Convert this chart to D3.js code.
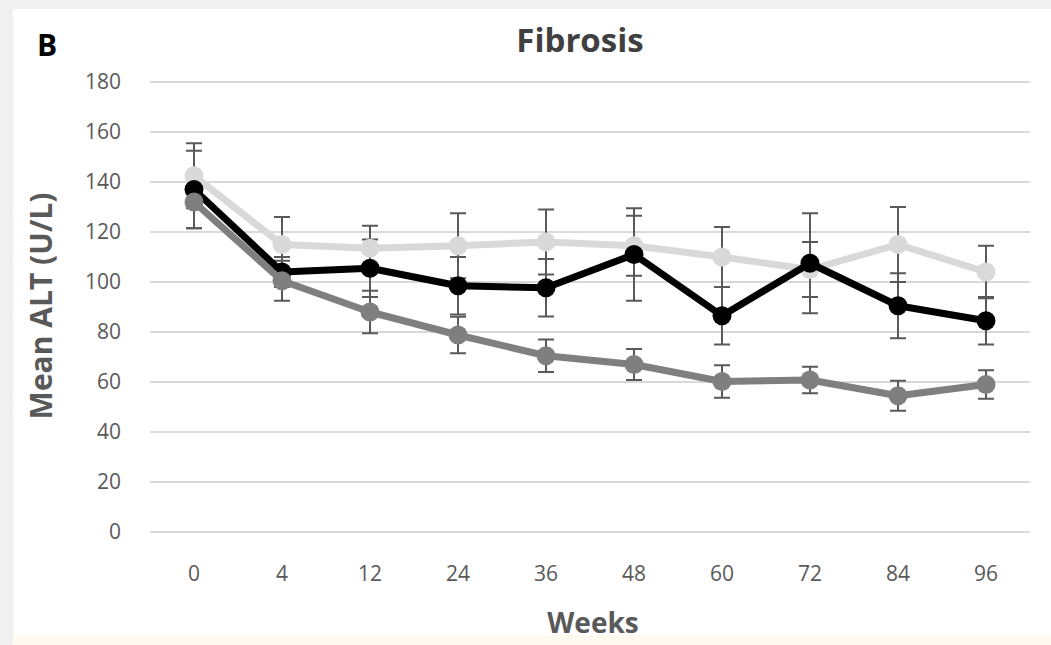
<!DOCTYPE html>
<html>
<head>
<meta charset="utf-8">
<script src="https://cdn.jsdelivr.net/npm/d3@7"></script>
<style>
  html, body { margin: 0; padding: 0; background: #f0f0f0; }
</style>
</head>
<body>
<div id="chart"></div>
<script>
// data
const weeks = ['0', '4', '12', '24', '36', '48', '60', '72', '84', '96'];
const yTicks = [0, 20, 40, 60, 80, 100, 120, 140, 160, 180];

const lightMean = [142.5, 115, 113.5, 114.5, 116, 114.5, 110, 105, 115, 104];
const lightErr  = [13, 11, 9, 13, 13, 12, 12, 11, 15, 10.5];

const blackMean = [137, 104, 105.5, 98.5, 97.7, 111, 86.5, 107.5, 90.5, 84.5];
const blackErr  = [15.5, 6, 11.5, 11.5, 11.5, 18.5, 11.5, 20, 13, 9.5];

const darkMean = [132, 100.5, 88, 78.8, 70.5, 67, 60.2, 60.8, 54.5, 59];
const darkErr  = [10.5, 8, 8.5, 7.3, 6.5, 6.2, 6.5, 5.3, 6, 5.7];

const series = [
  {name: 'light', mean: lightMean, err: lightErr, color: '#d9d9d9'},
  {name: 'black', mean: blackMean, err: blackErr, color: '#000000'},
  {name: 'dark',  mean: darkMean,  err: darkErr,  color: '#7f7f7f'}
];

const width = 1051, height = 645;
const plot = {left: 150, right: 1030, top: 82, bottom: 532};

const svg = d3.select('#chart')
  .append('svg')
    .attr('width', width)
    .attr('height', height)
    .style('display', 'block');

// backgrounds
svg.append('rect').attr('x', 0).attr('y', 0).attr('width', width).attr('height', height).attr('fill', '#f0f0f0');
svg.append('rect').attr('x', 13).attr('y', 9).attr('width', width - 13).attr('height', height - 9).attr('fill', '#ffffff');
svg.append('rect').attr('x', 13).attr('y', 635).attr('width', width - 13).attr('height', 10).attr('fill', '#fffaf0');

const xScale = d3.scalePoint()
  .domain(weeks)
  .range([plot.left, plot.right])
  .padding(0.5);

const yScale = d3.scaleLinear()
  .domain([0, 180])
  .range([plot.bottom, plot.top]);

// gridlines
svg.append('g')
  .selectAll('line')
  .data(yTicks)
  .join('line')
    .attr('x1', plot.left)
    .attr('x2', plot.right)
    .attr('y1', d => yScale(d))
    .attr('y2', d => yScale(d))
    .attr('stroke', '#d9d9d9')
    .attr('stroke-width', 2);

// y tick labels
svg.append('g')
  .selectAll('text')
  .data(yTicks)
  .join('text')
    .text(d => d)
    .attr('x', 121)
    .attr('y', d => yScale(d))
    .attr('dy', '0.35em')
    .attr('text-anchor', 'end')
    .attr('fill', '#595959')
    .attr('font-family', 'Open Sans, sans-serif')
    .attr('font-size', '21px');

// x tick labels
svg.append('g')
  .selectAll('text')
  .data(weeks)
  .join('text')
    .text(d => d)
    .attr('x', d => xScale(d))
    .attr('y', 574)
    .attr('dy', '0.35em')
    .attr('text-anchor', 'middle')
    .attr('fill', '#595959')
    .attr('font-family', 'Open Sans, sans-serif')
    .attr('font-size', '21px');

// error bars (drawn under lines)
const capHalf = 8;
series.forEach(s => {
  const g = svg.append('g').attr('class', 'err-' + s.name);
  const rows = weeks.map((w, i) => ({w: w, lo: s.mean[i] - s.err[i], hi: s.mean[i] + s.err[i]}));
  g.selectAll('line.stem')
    .data(rows)
    .join('line')
      .attr('class', 'stem')
      .attr('x1', d => xScale(d.w))
      .attr('x2', d => xScale(d.w))
      .attr('y1', d => yScale(d.lo))
      .attr('y2', d => yScale(d.hi))
      .attr('stroke', '#595959')
      .attr('stroke-width', 2);
  ['lo', 'hi'].forEach(k => {
    g.selectAll('line.cap-' + k)
      .data(rows)
      .join('line')
        .attr('class', 'cap-' + k)
        .attr('x1', d => xScale(d.w) - capHalf)
        .attr('x2', d => xScale(d.w) + capHalf)
        .attr('y1', d => yScale(d[k]))
        .attr('y2', d => yScale(d[k]))
        .attr('stroke', '#595959')
        .attr('stroke-width', 2);
  });
});

// lines + markers
const line = d3.line()
  .x((d, i) => xScale(weeks[i]))
  .y(d => yScale(d));

series.forEach(s => {
  svg.append('path')
    .datum(s.mean)
    .attr('d', line)
    .attr('fill', 'none')
    .attr('stroke', s.color)
    .attr('stroke-width', 7)
    .attr('stroke-linejoin', 'round');

  svg.append('g')
    .selectAll('circle')
    .data(s.mean)
    .join('circle')
      .attr('cx', (d, i) => xScale(weeks[i]))
      .attr('cy', d => yScale(d))
      .attr('r', 9.5)
      .attr('fill', s.color);
});

// titles
svg.append('text')
  .text('B')
  .attr('x', 37)
  .attr('y', 56)
  .attr('fill', '#000000')
  .attr('font-family', 'Open Sans, sans-serif')
  .attr('font-weight', 'bold')
  .attr('font-size', '30px');

svg.append('text')
  .text('Fibrosis')
  .attr('x', 580)
  .attr('y', 52)
  .attr('text-anchor', 'middle')
  .attr('fill', '#404040')
  .attr('font-family', 'Open Sans, sans-serif')
  .attr('font-weight', 'bold')
  .attr('font-size', '33px');

svg.append('text')
  .text('Weeks')
  .attr('x', 593)
  .attr('y', 633)
  .attr('text-anchor', 'middle')
  .attr('fill', '#595959')
  .attr('font-family', 'Open Sans, sans-serif')
  .attr('font-weight', 'bold')
  .attr('font-size', '28px');

svg.append('text')
  .text('Mean ALT (U/L)')
  .attr('transform', 'translate(52, 306) rotate(-90)')
  .attr('text-anchor', 'middle')
  .attr('fill', '#595959')
  .attr('font-family', 'Open Sans, sans-serif')
  .attr('font-weight', 'bold')
  .attr('font-size', '30px');
</script>
</body>
</html>
